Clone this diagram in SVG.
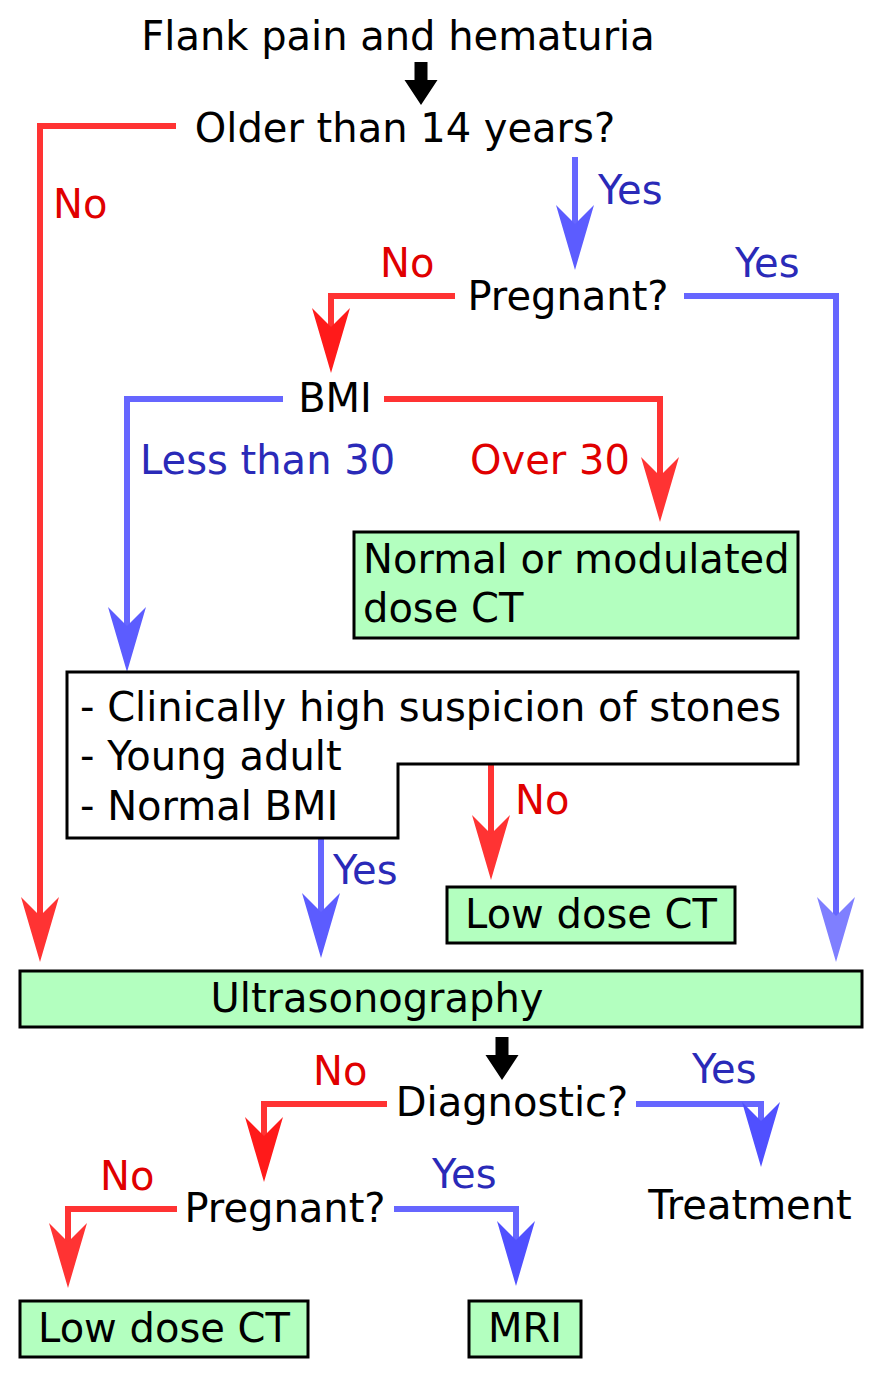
<svg xmlns="http://www.w3.org/2000/svg" xmlns:xlink="http://www.w3.org/1999/xlink" width="883" height="1378" viewBox="0 0 883 1378">
<style>
text{font-family:"DejaVu Sans",sans-serif;font-size:40px;fill:#000}
.r{fill:#e00000}.b{fill:#2a2ab8}
.lr{fill:none;stroke:#ff3333;stroke-width:6}
.lb{fill:none;stroke:#6666ff;stroke-width:6}
.box{fill:#b3ffbf;stroke:#000;stroke-width:3}
</style>
<defs>
<path id="h" d="M0,0 L-19,-65 L0,-46 L19,-65 Z"/>
<path id="k" d="M-6.5,-43 h13 v18 h10 L0,0 L-16.5,-25 h10 Z"/>
</defs>
<rect width="883" height="1378" fill="#fff"/>
<g id="connectors">
<use href="#k" x="421" y="105"/>
<use href="#k" x="502" y="1080"/>
<path class="lr" d="M176,126 H40 V920"/><use href="#h" x="40" y="962" fill="#ff3333"/>
<path class="lb" d="M575,157 V230"/><use href="#h" x="575" y="270" fill="#5c5cff"/>
<path class="lr" d="M455,296 H331 V330"/><use href="#h" x="331" y="373" fill="#ff1a1a"/>
<path class="lb" d="M684,296 H836 V920"/><use href="#h" x="836" y="962" fill="#7f7fff"/>
<path class="lb" d="M283,399 H127 V630"/><use href="#h" x="127" y="672" fill="#5c5cff"/>
<path class="lr" d="M384,399 H660 V480"/><use href="#h" x="660" y="522" fill="#ff3333"/>
<path class="lr" d="M491,764 V838"/><use href="#h" x="491" y="880" fill="#ff3333"/>
<path class="lb" d="M321,838 V916"/><use href="#h" x="321" y="958" fill="#5c5cff"/>
<path class="lr" d="M387,1104 H264 V1140"/><use href="#h" x="264" y="1182" fill="#ff1a1a"/>
<path class="lb" d="M636,1104 H761 V1125"/><use href="#h" x="761" y="1167" fill="#5050ff"/>
<path class="lr" d="M177,1209 H68 V1246"/><use href="#h" x="68" y="1288" fill="#ff3333"/>
<path class="lb" d="M394,1209 H516 V1244"/><use href="#h" x="516" y="1286" fill="#5050ff"/>
</g>
<g id="labels">
<text class="r" x="53" y="218">No</text>
<text class="b" x="598" y="204">Yes</text>
<text class="r" x="380" y="277">No</text>
<text class="b" x="735" y="277">Yes</text>
<text class="b" x="140" y="474">Less than 30</text>
<text class="r" x="470" y="474">Over 30</text>
<text class="r" x="515" y="814">No</text>
<text class="b" x="333" y="884">Yes</text>
<text class="r" x="313" y="1085">No</text>
<text class="b" x="692" y="1083">Yes</text>
<text class="r" x="100" y="1190">No</text>
<text class="b" x="432" y="1188">Yes</text>
</g>
<g id="n-start"><text x="398" y="50" text-anchor="middle">Flank pain and hematuria</text></g>
<g id="n-age"><text x="405" y="142" text-anchor="middle">Older than 14 years?</text></g>
<g id="n-preg1"><text x="568" y="310" text-anchor="middle">Pregnant?</text></g>
<g id="n-bmi"><text x="335" y="412" text-anchor="middle">BMI</text></g>
<g id="n-ct1"><rect class="box" x="354" y="532" width="444" height="106"/><text x="363" y="573">Normal or modulated</text><text x="363" y="622">dose CT</text></g>
<g id="n-crit"><path d="M67,672 H798 V764 H398 V838 H67 Z" fill="#fff" stroke="#000" stroke-width="3"/>
<text x="80" y="721">- Clinically high suspicion of stones</text><text x="80" y="770">- Young adult</text><text x="80" y="820">- Normal BMI</text></g>
<g id="n-ldct1"><rect class="box" x="447" y="887" width="288" height="56"/><text x="591" y="928" text-anchor="middle">Low dose CT</text></g>
<g id="n-us"><rect class="box" x="20" y="971" width="842" height="56"/><text x="377" y="1012" text-anchor="middle">Ultrasonography</text></g>
<g id="n-diag"><text x="512" y="1116" text-anchor="middle">Diagnostic?</text></g>
<g id="n-treat"><text x="750" y="1219" text-anchor="middle">Treatment</text></g>
<g id="n-preg2"><text x="285" y="1222" text-anchor="middle">Pregnant?</text></g>
<g id="n-ldct2"><rect class="box" x="20" y="1301" width="288" height="56"/><text x="164" y="1342" text-anchor="middle">Low dose CT</text></g>
<g id="n-mri"><rect class="box" x="469" y="1301" width="112" height="56"/><text x="525" y="1342" text-anchor="middle">MRI</text></g>
</svg>
